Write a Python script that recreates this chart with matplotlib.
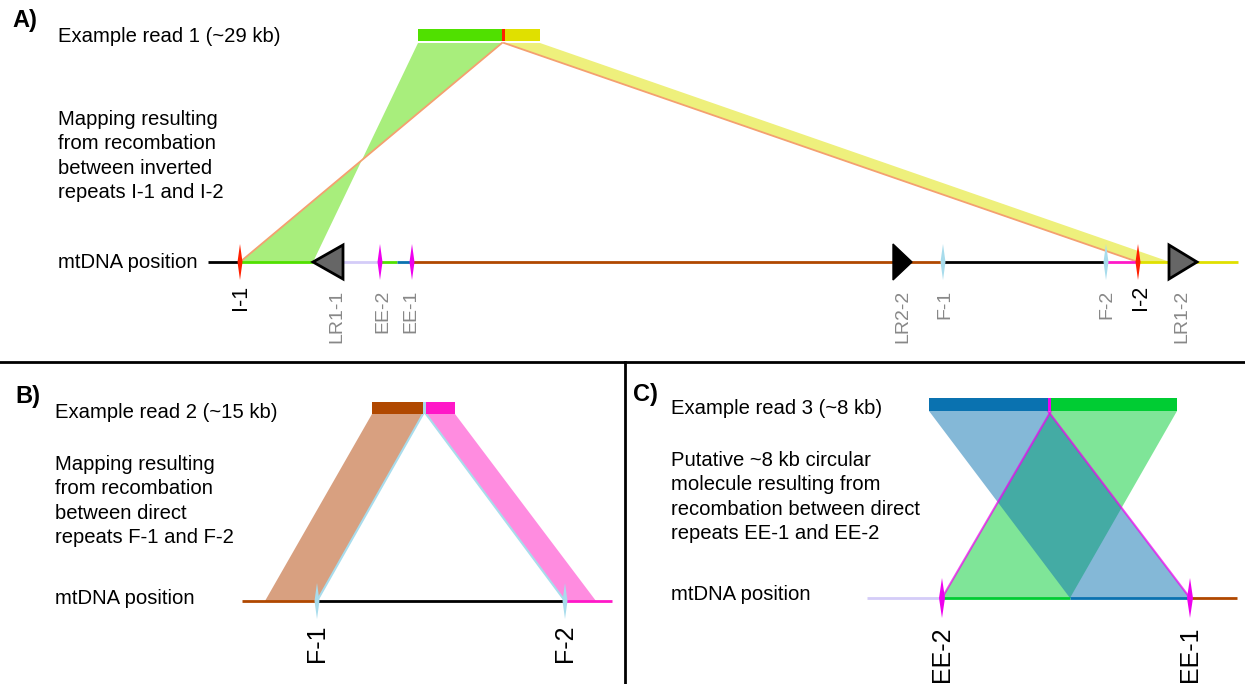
import matplotlib
matplotlib.use('Agg')
import matplotlib.pyplot as plt
from matplotlib.patches import Polygon, Rectangle

plt.rcParams['font.family'] = ['Liberation Sans', 'DejaVu Sans']

# colours
GREEN = '#50e000'
YELLOW = '#e0e000'
RED = '#ff2000'
BROWN = '#b04800'
MAGENTA = '#ff18c8'
EE_MAG = '#ee00ee'
FBLUE = '#a8dcec'
LAV = '#d4ccf8'
BLUE = '#0a72b0'
CGREEN = '#00cc33'
EDGE = '#f4a070'
GREY_TXT = '#888888'

# ---- panel A: read 1 and mtDNA map (x positions, drawing units) ----
A_y_line = 262
A_segments = [(208, 240, 'black'), (240, 313, GREEN), (313, 380, LAV), (380, 397, GREEN),
              (397, 412, BLUE), (412, 943, BROWN), (943, 1106, 'black'),
              (1106, 1138, MAGENTA), (1138, 1238, YELLOW)]
A_markers = [(240, RED), (380, EE_MAG), (412, EE_MAG), (943, FBLUE), (1106, FBLUE), (1138, RED)]
A_labels = [(240, 'I-1', 'black'), (337, 'LR1-1', GREY_TXT), (383, 'EE-2', GREY_TXT),
            (411, 'EE-1', GREY_TXT), (903, 'LR2-2', GREY_TXT), (945, 'F-1', GREY_TXT),
            (1107, 'F-2', GREY_TXT), (1140, 'I-2', 'black'), (1182, 'LR1-2', GREY_TXT)]
A_read = [(418, 502, GREEN), (502, 505, RED), (505, 540, YELLOW)]
# inverted repeats: read start..breakpoint maps onto mtDNA 313..240
A_map_green = (418, 502, 313, 240)
A_map_yellow = (504, 540, 1138, 1170)

# ---- panel B ----
B_y_line = 601
B_segments = [(242, 317, BROWN), (317, 565, 'black'), (565, 612, MAGENTA)]
B_markers = [(317, FBLUE), (565, FBLUE)]
B_labels = [(317, 'F-1'), (565, 'F-2')]
B_read = [(372, 423, BROWN), (423, 426, FBLUE), (426, 455, MAGENTA)]
B_map_brown = (372, 423, 265, 317)
B_map_pink = (426, 455, 565, 596)

# ---- panel C ----
C_y_line = 598
C_segments = [(867, 942, LAV), (942, 1070, CGREEN), (1070, 1190, BLUE), (1190, 1237, BROWN)]
C_markers = [(942, EE_MAG), (1190, EE_MAG)]
C_labels = [(942, 'EE-2'), (1190, 'EE-1')]
C_read = [(929, 1048, BLUE), (1048, 1051, EE_MAG), (1051, 1177, CGREEN)]
C_map_blue = (929, 1048, 1070, 1190)
C_map_green = (1051, 1177, 942, 1070)

FS = 14.6
LS = 1.36

fig = plt.figure(figsize=(12.45, 6.84), dpi=100)
ax = fig.add_axes([0, 0, 1, 1])
ax.set_xlim(0, 1245)
ax.set_ylim(684, 0)
ax.axis('off')


def draw_line(segs, y):
    for x0, x1, c in segs:
        ax.plot([x0, x1], [y, y], color=c, lw=2, solid_capstyle='butt', zorder=3)


def draw_markers(marks, y, h=18, w=2.5):
    for x, c in marks:
        ax.add_patch(Polygon([(x, y - h), (x + w, y), (x, y + h), (x - w, y)],
                             closed=True, fc=c, ec='none', zorder=5))


def draw_read(parts, y0, y1):
    for x0, x1, c in parts:
        ax.add_patch(Rectangle((x0, y0), x1 - x0, y1 - y0, fc=c, ec='none', zorder=4))


def band(m, ytop, ybot, fc, alpha=1.0, z=1):
    r0, r1, g0, g1 = m
    ax.add_patch(Polygon([(r0, ytop), (r1, ytop), (g1, ybot), (g0, ybot)],
                         closed=True, fc=fc, ec='none', alpha=alpha, zorder=z))


def vlabels(labs, y, size, default='black'):
    for item in labs:
        x, t = item[0], item[1]
        c = item[2] if len(item) > 2 else default
        ax.text(x, y, t, rotation=90, ha='center', va='top', fontsize=size, color=c, zorder=6)


# panel A
band(A_map_green, 43, A_y_line, '#a8ee7c')
band(A_map_yellow, 43, A_y_line, '#eef07c')
ax.plot([A_map_green[1], A_map_green[3]], [43, A_y_line], color=EDGE, lw=1.3, zorder=2)
ax.plot([A_map_yellow[0], A_map_yellow[2]], [43, A_y_line], color=EDGE, lw=1.3, zorder=2)
draw_line(A_segments, A_y_line)
draw_read(A_read, 29, 41)
ax.add_patch(Polygon([(313, A_y_line), (343, 245), (343, 279)], closed=True,
                     fc='#666666', ec='black', lw=2, zorder=6))
ax.add_patch(Polygon([(893, 244), (912, A_y_line), (893, 280)], closed=True,
                     fc='black', ec='black', lw=1, zorder=6))
ax.add_patch(Polygon([(1169, 245), (1197, A_y_line), (1169, 279)], closed=True,
                     fc='#666666', ec='black', lw=2, zorder=6))
draw_markers(A_markers, A_y_line)
vlabels([l for l in A_labels if l[2] == 'black'], 285, 15.5)
vlabels([l for l in A_labels if l[2] != 'black'], 290, 14)

ax.text(12, 20, 'A)', fontsize=17, fontweight='bold', va='center')
ax.text(58, 37, 'Example read 1 (~29 kb)', fontsize=FS, va='center')
ax.text(58, 110, 'Mapping resulting\nfrom recombation\nbetween inverted\nrepeats I-1 and I-2',
        fontsize=FS, va='top', linespacing=LS)
ax.text(58, 262, 'mtDNA position', fontsize=FS, va='center')

# panel separators
ax.plot([0, 1245], [362, 362], color='black', lw=2)
ax.plot([625, 625], [362, 684], color='black', lw=2)

# panel B
band(B_map_brown, 414, B_y_line, '#d8a080')
band(B_map_pink, 414, B_y_line, '#ff8ce0')
ax.plot([B_map_brown[1], B_map_brown[3]], [414, B_y_line], color=FBLUE, lw=1.5, zorder=2)
ax.plot([B_map_pink[0], B_map_pink[2]], [414, B_y_line], color=FBLUE, lw=1.5, zorder=2)
draw_line(B_segments, B_y_line)
draw_read(B_read, 402, 414)
draw_markers(B_markers, B_y_line)
vlabels(B_labels, 624, 18)

ax.text(15, 396, 'B)', fontsize=17, fontweight='bold', va='center')
ax.text(55, 412, 'Example read 2 (~15 kb)', fontsize=FS, va='center')
ax.text(55, 455, 'Mapping resulting\nfrom recombation\nbetween direct\nrepeats F-1 and F-2',
        fontsize=FS, va='top', linespacing=LS)
ax.text(55, 598, 'mtDNA position', fontsize=FS, va='center')

# panel C: green drawn first so the blue band sits over it
band(C_map_green, 411, C_y_line, CGREEN, alpha=0.5, z=1)
band(C_map_blue, 411, C_y_line, BLUE, alpha=0.5, z=1.5)
ax.plot([C_map_blue[1], C_map_blue[3]], [411, C_y_line], color=EE_MAG, lw=1.5, alpha=0.7, zorder=2)
ax.plot([C_map_green[0], C_map_green[2]], [411, C_y_line], color=EE_MAG, lw=1.5, alpha=0.7, zorder=2)
draw_line(C_segments, C_y_line)
draw_read(C_read, 398, 411)
draw_markers(C_markers, C_y_line, h=20, w=3)
vlabels(C_labels, 627, 18)

ax.text(633, 394, 'C)', fontsize=17, fontweight='bold', va='center')
ax.text(671, 408, 'Example read 3 (~8 kb)', fontsize=FS, va='center')
ax.text(671, 451, 'Putative ~8 kb circular\nmolecule resulting from\nrecombation between direct\nrepeats EE-1 and EE-2',
        fontsize=FS, va='top', linespacing=LS)
ax.text(671, 595, 'mtDNA position', fontsize=FS, va='center')

plt.savefig('out.png', dpi=100)
